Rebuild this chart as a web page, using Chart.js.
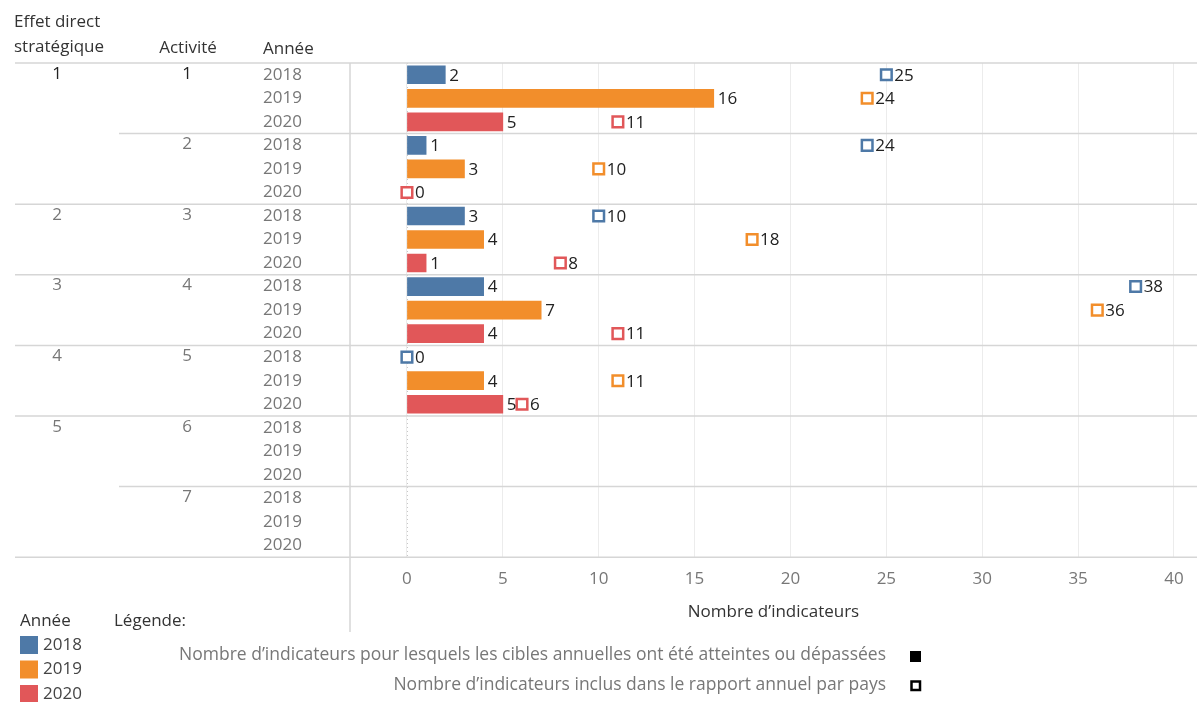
<!DOCTYPE html>
<html>
<head>
<meta charset="utf-8">
<script src="https://cdn.jsdelivr.net/npm/chart.js@4/dist/chart.umd.min.js"></script>
<style>
  html, body { margin: 0; background: #fff; }
</style>
</head>
<body>
<canvas id="chart" width="1197" height="702"></canvas>
<script>
// rows: 7 activités x 3 années
const years = ["2018", "2019", "2020"];
const activities = ["1", "2", "3", "4", "5", "6", "7"];
const effetOfActivity = ["1", "1", "2", "3", "4", "5", "5"];

// Nombre d'indicateurs atteints ou dépassés (barres)
const atteints = [
  2, 16, 5,
  1, 3, null,
  3, 4, 1,
  4, 7, 4,
  null, 4, 5,
  null, null, null,
  null, null, null
];
// Nombre d'indicateurs inclus dans le rapport annuel (carrés)
const inclus = [
  25, 24, 11,
  24, 10, 0,
  10, 18, 8,
  38, 36, 11,
  0, 11, 6,
  null, null, null,
  null, null, null
];
const xTickValues = [0, 5, 10, 15, 20, 25, 30, 35, 40];
const xMin = -2.97;
const xMax = 41.2;
const yearColors = ["#4e79a7", "#f28e2b", "#e15759"];

const rowLabels = [];
activities.forEach(() => years.forEach(y => rowLabels.push(y)));
const rowColors = rowLabels.map((_, i) => yearColors[i % 3]);

const FONT = "'Open Sans', sans-serif";
const lineCol = "#d6d6d6";

const tablePlugin = {
  id: "tablePlugin",
  beforeDatasetsDraw(chart) {
    const ctx = chart.ctx;
    const y = chart.scales.y;
    const x = chart.scales.x;
    const band = (y.bottom - y.top) / rowLabels.length;
    const rowTop = r => y.top + r * band;

    ctx.save();
    // dotted zero line
    ctx.strokeStyle = "#c8c8c8";
    ctx.lineWidth = 1;
    ctx.setLineDash([1, 3]);
    const x0 = Math.round(x.getPixelForValue(0)) + 0.5;
    ctx.beginPath();
    ctx.moveTo(x0, y.top);
    ctx.lineTo(x0, y.bottom);
    ctx.stroke();
    ctx.setLineDash([]);

    // row separators
    ctx.strokeStyle = lineCol;
    ctx.lineWidth = 1.5;
    activities.forEach((a, i) => {
      const newEffet = i === 0 || effetOfActivity[i] !== effetOfActivity[i - 1];
      const yy = rowTop(i * 3);
      ctx.beginPath();
      ctx.moveTo(newEffet ? 15 : 119, yy);
      ctx.lineTo(chart.width, yy);
      ctx.stroke();
    });
    ctx.beginPath();
    ctx.moveTo(15, y.bottom);
    ctx.lineTo(chart.width, y.bottom);
    ctx.stroke();

    // vertical divider
    ctx.beginPath();
    ctx.moveTo(x.left, y.top);
    ctx.lineTo(x.left, 632);
    ctx.stroke();

    // headers
    ctx.fillStyle = "#333";
    ctx.font = "17px " + FONT;
    ctx.textBaseline = "middle";
    ctx.textAlign = "left";
    ctx.fillText("Effet direct", 14, 22);
    ctx.fillText("stratégique", 14, 47);
    ctx.textAlign = "center";
    ctx.fillText("Activité", 188, 48);
    ctx.textAlign = "left";
    ctx.fillText("Année", 263, 49);

    // effet / activité labels
    ctx.textAlign = "center";
    activities.forEach((a, i) => {
      const yy = y.getPixelForValue(i * 3);
      const newEffet = i === 0 || effetOfActivity[i] !== effetOfActivity[i - 1];
      if (newEffet) {
        ctx.fillStyle = i === 0 ? "#222" : "#777";
        ctx.fillText(effetOfActivity[i], 57, yy - 1);
      }
      ctx.fillStyle = i === 0 ? "#222" : "#777";
      ctx.fillText(a, 187, yy - 1);
    });

    // legend
    ctx.textAlign = "left";
    ctx.fillStyle = "#333";
    ctx.fillText("Année", 20, 621);
    ctx.fillText("Légende:", 114, 621);
    years.forEach((yr, i) => {
      ctx.fillStyle = yearColors[i];
      ctx.fillRect(20, 636 + i * 24.5, 18, 18);
      ctx.fillStyle = "#444";
      ctx.fillText(yr, 43, 645 + i * 24.5);
    });
    ctx.textAlign = "right";
    ctx.fillStyle = "#777";
    ctx.font = "17.5px " + FONT;
    ctx.fillText("Nombre d’indicateurs pour lesquels les cibles annuelles ont été atteintes ou dépassées", 886, 655);
    ctx.fillText("Nombre d’indicateurs inclus dans le rapport annuel par pays", 886, 685);
    ctx.fillStyle = "#000";
    ctx.fillRect(910, 651, 11, 11);
    ctx.strokeStyle = "#000";
    ctx.lineWidth = 2.5;
    ctx.strokeRect(911.5, 681.5, 8.5, 8.5);
    ctx.restore();
  },
  afterDatasetsDraw(chart) {
    const ctx = chart.ctx;
    ctx.save();
    ctx.font = "17px " + FONT;
    ctx.fillStyle = "#222";
    ctx.textAlign = "left";
    ctx.textBaseline = "middle";
    const bars = chart.getDatasetMeta(0).data;
    bars.forEach((el, i) => {
      if (atteints[i] === null) return;
      ctx.fillText(String(atteints[i]), el.x + 4, el.y + 1);
    });
    const pts = chart.getDatasetMeta(1).data;
    pts.forEach((el, i) => {
      if (inclus[i] === null) return;
      ctx.fillText(String(inclus[i]), el.x + 8, el.y + 1);
    });
    ctx.restore();
  }
};

new Chart(document.getElementById("chart"), {
  type: "bar",
  data: {
    labels: rowLabels,
    datasets: [
      {
        label: "Atteintes ou dépassées",
        data: atteints,
        backgroundColor: rowColors,
        barThickness: 18,
        order: 2
      },
      {
        type: "line",
        label: "Inclus dans le rapport",
        data: inclus,
        indexAxis: "y",
        showLine: false,
        clip: false,
        pointStyle: "rect",
        pointRadius: 7.5,
        pointHoverRadius: 7.5,
        pointBorderWidth: 2.5,
        pointBackgroundColor: "#fff",
        pointBorderColor: rowColors,
        order: 1
      }
    ]
  },
  options: {
    indexAxis: "y",
    responsive: false,
    animation: false,
    devicePixelRatio: 1,
    layout: { autoPadding: false, padding: { left: 263, top: 63, right: 0, bottom: 80 } },
    plugins: { legend: { display: false }, tooltip: { enabled: false } },
    scales: {
      y: {
        grid: { display: false, drawTicks: false },
        border: { display: false },
        afterFit: s => { s.width = 87; },
        ticks: {
          crossAlign: "far",
          padding: 0,
          color: "#777",
          font: { family: FONT, size: 17 }
        }
      },
      x: {
        min: xMin,
        max: xMax,
        grid: { color: "#ececec", drawTicks: false },
        border: { display: false },
        afterBuildTicks: s => {
          s.ticks = xTickValues.map(v => ({ value: v }));
        },
        afterFit: s => {
          s.paddingLeft = 0;
          s.paddingRight = 0;
        },
        ticks: {
          padding: 12,
          color: "#777",
          font: { family: FONT, size: 17 }
        },
        title: {
          display: true,
          text: "Nombre d’indicateurs",
          color: "#333",
          font: { family: FONT, size: 17 },
          padding: { top: 0, bottom: 0 }
        }
      }
    }
  },
  plugins: [tablePlugin]
});
</script>
</body>
</html>
